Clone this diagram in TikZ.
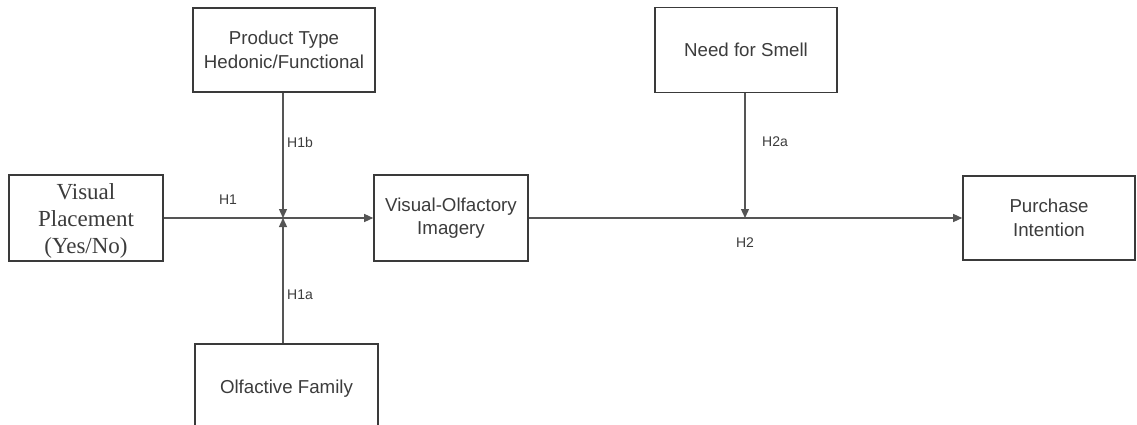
\documentclass[tikz,border=0pt]{standalone}
\usepackage{fontspec}
\setmainfont{Liberation Sans}
\newfontfamily\serifface{Liberation Serif}
\usetikzlibrary{arrows.meta}
\definecolor{edgegray}{HTML}{3A3A3A}
\definecolor{linegray}{HTML}{555555}
\definecolor{textgray}{HTML}{3C3C3C}
\tikzset{
  boxnode/.style={draw=edgegray, line width=1.6pt, fill=white, align=center,
    text=textgray, inner sep=0pt, font=\fontsize{18.7}{23.5}\selectfont},
  link/.style={draw=linegray, line width=1.3pt},
  arrowlink/.style={link, -{Triangle[length=9pt,width=8pt]}},
  hyp/.style={text=textgray, font=\fontsize{14}{16}\selectfont, inner sep=0pt}
}
\begin{document}
\begin{tikzpicture}[x=1pt, y=-1pt]
  \useasboundingbox (0,0) rectangle (1137,425);
  \clip (0,0) rectangle (1137,425);

  % boxes
  \node[boxnode, minimum width=154pt, minimum height=86pt,
        font=\serifface\fontsize{23}{27}\selectfont] (vp) at (86,218) {};
  \node[align=center, text=textgray, inner sep=0pt,
        font=\serifface\fontsize{23}{27}\selectfont] (vptext) at (86,221)
        {Visual\\Placement\\(Yes/No)};
  \node[boxnode, minimum width=182pt, minimum height=84pt] (pt) at (284,50)
        {Product Type\\Hedonic/Functional};
  \node[boxnode, minimum width=183pt, minimum height=90pt] (of) at (286.5,389)
        {\raisebox{4pt}{Olfactive Family}};
  \node[boxnode, minimum width=154pt, minimum height=86pt] (voi) at (451,218)
        {Visual-Olfactory\\Imagery};
  \node[boxnode, minimum width=182pt, minimum height=85pt] (ns) at (746,50)
        {Need for Smell};
  \node[boxnode, minimum width=172pt, minimum height=84pt] (pi) at (1049,218)
        {Purchase\\Intention};

  % junction points on the main paths
  \coordinate (j) at (283,218);
  \coordinate (k) at (745,218);

  % main effect paths
  \draw[arrowlink] (vp.east) -- (voi.west);
  \draw[arrowlink] (voi.east) -- (pi.west);

  % moderators
  \draw[arrowlink] (pt.south -| j) -- (j);
  \draw[arrowlink] (of.north -| j) -- (j);
  \draw[arrowlink] (ns.south -| k) -- (k);

  % hypothesis labels
  \node[hyp] (h1)  at (228,200) {H1};
  \node[hyp] (h1b) at (300,142) {H1b};
  \node[hyp] (h1a) at (300,295) {H1a};
  \node[hyp] (h2a) at (775,142) {H2a};
  \node[hyp] (h2)  at (745,243) {H2};
\end{tikzpicture}
\end{document}
